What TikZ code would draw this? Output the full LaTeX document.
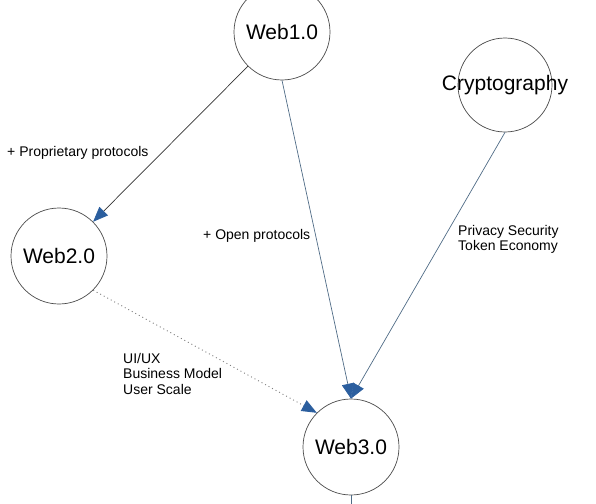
\documentclass[tikz,border=0pt]{standalone}
\usepackage{fontspec}
\setmainfont{Liberation Sans}
\usetikzlibrary{arrows.meta}
\definecolor{tipblue}{HTML}{2B5E9E}
\definecolor{edgeblue}{HTML}{4F6B86}
\definecolor{ringgray}{HTML}{4A4A4A}
\tikzset{
  ring/.style={circle, draw=ringgray, line width=0.7pt, minimum size=96pt, inner sep=0pt, font=\fontsize{21}{24}\selectfont},
  bigtext/.style={font=\fontsize{21}{24}\selectfont, inner sep=0pt},
  lbl/.style={anchor=west, align=left, inner sep=0pt, font=\fontsize{14}{15.5}\selectfont},
  conn/.style={line width=0.7pt, -{Triangle[length=15pt,width=12pt,fill=tipblue,color=tipblue]}},
}
\begin{document}
\begin{tikzpicture}[x=1pt,y=-1pt]
\useasboundingbox (0,0) rectangle (596,503);
\node[ring] (w1) at (282,32) {Web1.0};
\node[ring] (w2) at (59,256) {Web2.0};
\node[ring, minimum size=94pt] (cr) at (505,85) {};
\node[bigtext] (crt) at (505,85) {Cryptography};
\node[ring] (w3) at (351,447) {Web3.0};
\coordinate (bot) at (351,510);

\draw[conn, draw=black!80] (w1) -- (w2);
\draw[conn, draw=edgeblue] (w1.south) -- (w3.north);
\draw[conn, draw=edgeblue] (cr.south) -- (w3.north);
\draw[conn, draw=gray, line width=0.9pt, dash pattern=on 1pt off 3pt] (w2.-45) -- (w3.135);
\draw[line width=0.7pt, draw=edgeblue] (w3.south) -- (bot);

\node[lbl] (l1) at (7,153) {+ Proprietary protocols};
\node[lbl] (l2) at (203,236) {+ Open protocols};
\node[lbl] (l3) at (458,239.5) {Privacy Security\\Token Economy};
\node[lbl] (l4) at (123,373.5) {UI/UX\\Business Model\\User Scale};
\end{tikzpicture}
\end{document}
